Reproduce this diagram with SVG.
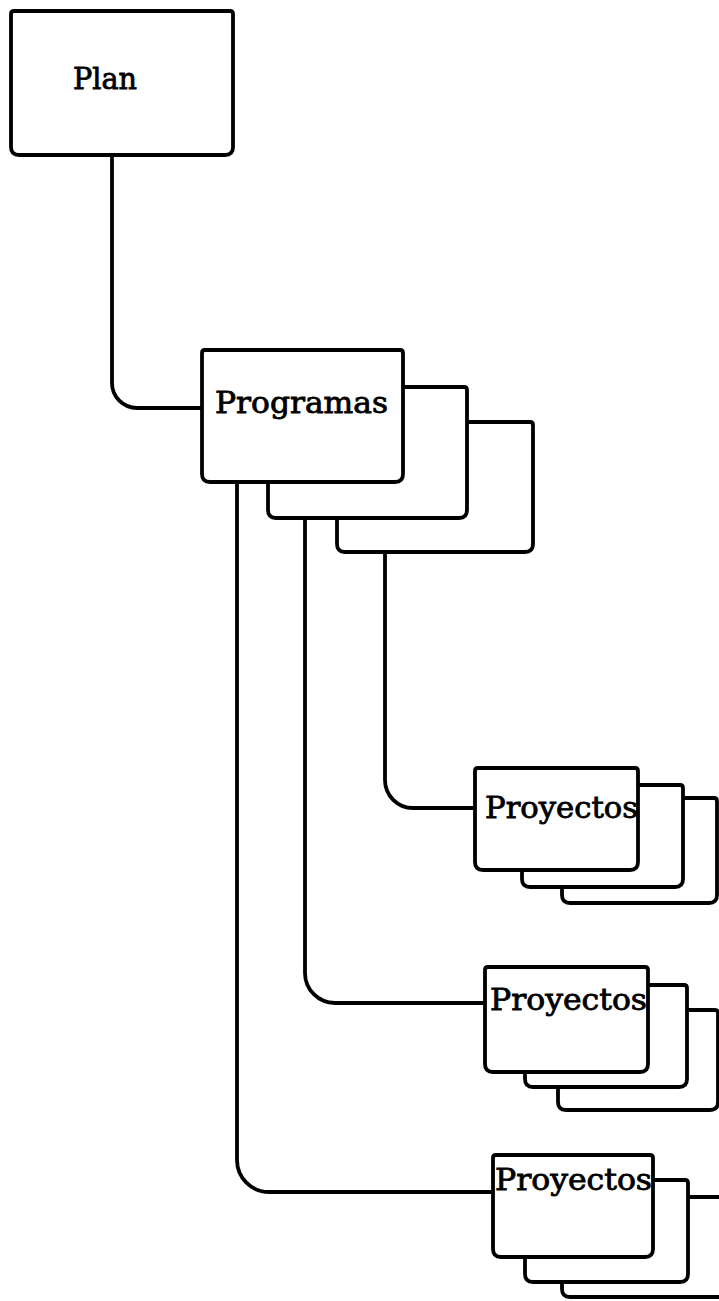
<svg xmlns="http://www.w3.org/2000/svg" width="719" height="1301" viewBox="0 0 719 1301">
<style>
.box{fill:#fff;stroke:#000;stroke-width:3.8;stroke-linejoin:round}
.lbl{font-family:"DejaVu Serif","Liberation Serif",serif;font-size:29px;fill:#000;stroke:#000;stroke-width:0.8}
.con{fill:none;stroke:#000;stroke-width:3.8;stroke-linecap:round;stroke-linejoin:round}
</style>
<rect width="719" height="1301" fill="#fff"/>
<g id="connectors">
<path class="con" d="M112,155 V383 A25,25 0 0 0 137,408 H202"/>
<path class="con" d="M385,552 V780 A28,28 0 0 0 413,808 H475"/>
<path class="con" d="M305,518 V973 A30,30 0 0 0 335,1003 H485"/>
<path class="con" d="M237,482 V1160 A32,32 0 0 0 269,1192 H493"/>
</g>
<g id="plan">
<path class="box" d="M14,11 H230 Q233,11 233,14 V147 Q233,155 225,155 H19 Q11,155 11,147 V14 Q11,11 14,11 Z"/>
<text class="lbl" x="73" y="89" textLength="64" lengthAdjust="spacingAndGlyphs">Plan</text>
</g>
<g id="programas">
<path class="box" d="M340,422 H530 Q533,422 533,425 V544 Q533,552 525,552 H345 Q337,552 337,544 V425 Q337,422 340,422 Z"/>
<path class="box" d="M271,387 H464 Q467,387 467,390 V510 Q467,518 459,518 H276 Q268,518 268,510 V390 Q268,387 271,387 Z"/>
<path class="box" d="M205,350 H400 Q403,350 403,353 V474 Q403,482 395,482 H210 Q202,482 202,474 V353 Q202,350 205,350 Z"/>
<text class="lbl" x="215" y="413" textLength="173" lengthAdjust="spacingAndGlyphs">Programas</text>
</g>
<g id="proyectos1">
<path class="box" d="M565,798 H714 Q717,798 717,801 V895 Q717,903 709,903 H570 Q562,903 562,895 V801 Q562,798 565,798 Z"/>
<path class="box" d="M525,785 H680 Q683,785 683,788 V879 Q683,887 675,887 H530 Q522,887 522,879 V788 Q522,785 525,785 Z"/>
<path class="box" d="M478,768 H635 Q638,768 638,771 V862 Q638,870 630,870 H483 Q475,870 475,862 V771 Q475,768 478,768 Z"/>
<text class="lbl" x="485" y="818" textLength="153" lengthAdjust="spacingAndGlyphs">Proyectos</text>
</g>
<g id="proyectos2">
<path class="box" d="M561,1010 H715 Q718,1010 718,1013 V1102 Q718,1110 710,1110 H566 Q558,1110 558,1102 V1013 Q558,1010 561,1010 Z"/>
<path class="box" d="M528,985 H684 Q687,985 687,988 V1079 Q687,1087 679,1087 H533 Q525,1087 525,1079 V988 Q525,985 528,985 Z"/>
<path class="box" d="M488,967 H645 Q648,967 648,970 V1064 Q648,1072 640,1072 H493 Q485,1072 485,1064 V970 Q485,967 488,967 Z"/>
<text class="lbl" x="490" y="1010" textLength="157" lengthAdjust="spacingAndGlyphs">Proyectos</text>
</g>
<g id="proyectos3">
<path class="box" d="M565,1197 H724 Q727,1197 727,1200 V1289 Q727,1297 719,1297 H570 Q562,1297 562,1289 V1200 Q562,1197 565,1197 Z"/>
<path class="box" d="M528,1180 H685 Q688,1180 688,1183 V1274 Q688,1282 680,1282 H533 Q525,1282 525,1274 V1183 Q525,1180 528,1180 Z"/>
<path class="box" d="M496,1155 H650 Q653,1155 653,1158 V1249 Q653,1257 645,1257 H501 Q493,1257 493,1249 V1158 Q493,1155 496,1155 Z"/>
<text class="lbl" x="495" y="1190" textLength="157" lengthAdjust="spacingAndGlyphs">Proyectos</text>
</g>
</svg>
